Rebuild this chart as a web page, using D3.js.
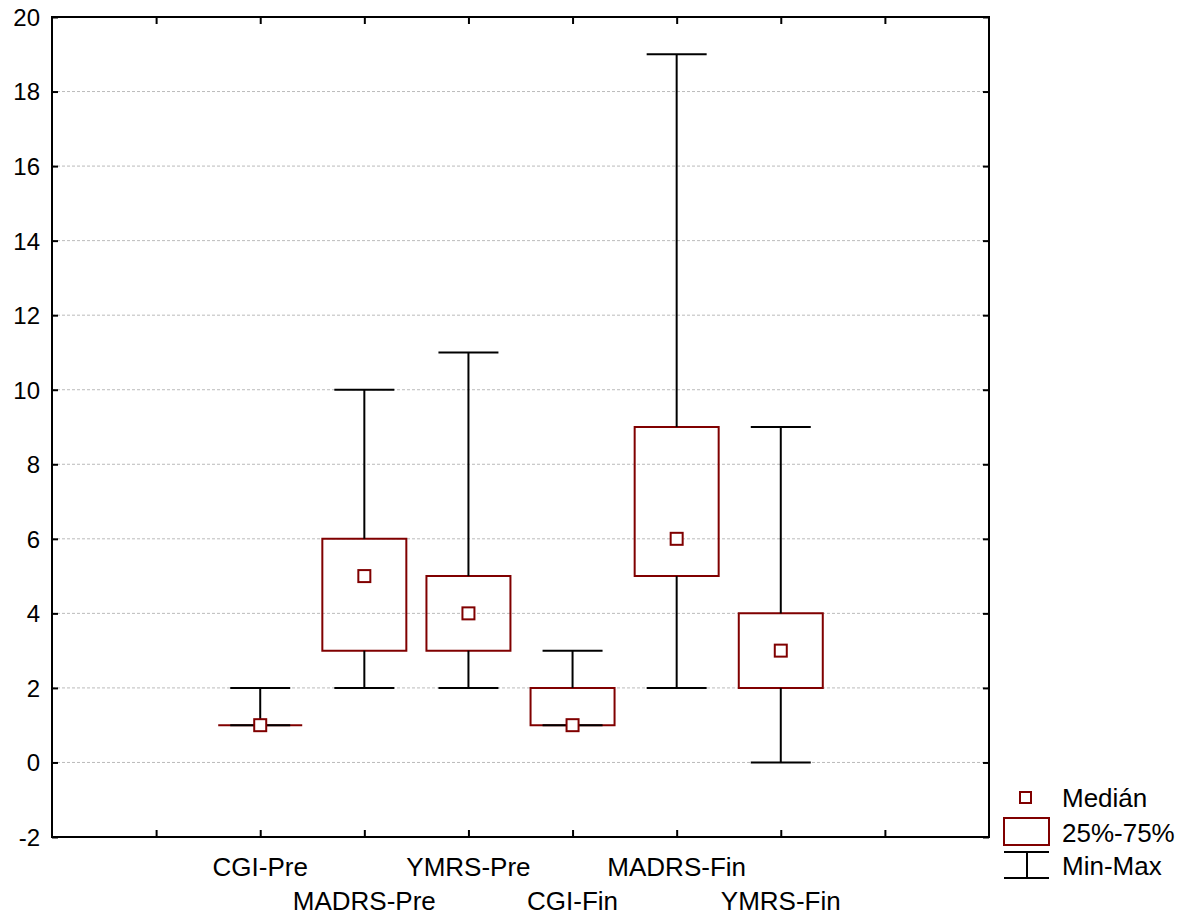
<!DOCTYPE html>
<html><head><meta charset="utf-8">
<script src="https://cdn.jsdelivr.net/npm/d3@7"></script>
<style>body{margin:0;background:#fff}svg{display:block}text{font-family:"Liberation Sans",Arial,sans-serif;fill:#000}</style>
</head><body>
<svg id="c" width="1189" height="917"></svg>
<script>
const categories = ["CGI-Pre","MADRS-Pre","YMRS-Pre","CGI-Fin","MADRS-Fin","YMRS-Fin"];
const minVals    = [1, 2, 2, 1, 2, 0];
const q1Vals     = [1, 3, 3, 1, 5, 2];
const medianVals = [1, 5, 4, 1, 6, 3];
const q3Vals     = [1, 6, 5, 2, 9, 4];
const maxVals    = [2, 10, 11, 3, 19, 9];
const yTicks = [-2,0,2,4,6,8,10,12,14,16,18,20];
const legendLabels = ["Medián","25%-75%","Min-Max"];

const red = "#800000";
const svg = d3.select("#c");
const L = 52, R = 989, T = 17, B = 837;
const x = d3.scaleLinear().domain([0, 9]).range([L, R]);
const y = d3.scaleLinear().domain([-2, 20]).range([B, T]);
const xPos = i => x(i + 2);

// grid
svg.append("g").selectAll("line").data(yTicks.filter(v => v > -2 && v < 20)).join("line")
  .attr("x1", L).attr("x2", R).attr("y1", d => y(d)).attr("y2", d => y(d))
  .attr("stroke", "#bbb").attr("stroke-width", 1).attr("stroke-dasharray", "3,2");

// axes with inward ticks
const yAxisL = d3.axisLeft(y).tickValues(yTicks).tickSize(-6).tickPadding(12).tickFormat(d => String(d));
const gy = svg.append("g").attr("transform", `translate(${L},0)`).call(yAxisL);
gy.select(".domain").remove();
gy.selectAll("line").attr("stroke", "#000").attr("stroke-width", 2);
gy.selectAll("text").attr("font-size", 24).attr("dy", "0.35em");

const yAxisR = d3.axisRight(y).tickValues(yTicks).tickSize(-6).tickFormat("");
const gyr = svg.append("g").attr("transform", `translate(${R},0)`).call(yAxisR);
gyr.select(".domain").remove();
gyr.selectAll("line").attr("stroke", "#000").attr("stroke-width", 2);

const xTickVals = d3.range(1, 9);
const gxb = svg.append("g").attr("transform", `translate(0,${B})`)
  .call(d3.axisBottom(x).tickValues(xTickVals).tickSize(-7).tickFormat(""));
gxb.select(".domain").remove();
gxb.selectAll("line").attr("stroke", "#000").attr("stroke-width", 2);
const gxt = svg.append("g").attr("transform", `translate(0,${T})`)
  .call(d3.axisTop(x).tickValues(xTickVals).tickSize(-7).tickFormat(""));
gxt.select(".domain").remove();
gxt.selectAll("line").attr("stroke", "#000").attr("stroke-width", 2);

// frame
svg.append("rect").attr("x", L).attr("y", T).attr("width", R - L).attr("height", B - T)
  .attr("fill", "none").attr("stroke", "#000").attr("stroke-width", 2);

// category labels (staggered)
svg.append("g").selectAll("text").data(categories).join("text")
  .attr("x", (d, i) => xPos(i)).attr("y", (d, i) => i % 2 === 0 ? 876 : 910)
  .attr("text-anchor", "middle").attr("font-size", 26).text(d => d);

const boxW = 84, capW = 60, med = 12;
const g = svg.append("g");
categories.forEach((c, i) => {
  const cx = xPos(i);
  const x0 = cx - boxW / 2, x1 = cx + boxW / 2, yt = y(q3Vals[i]), yb = y(q1Vals[i]);
  // box (path so zero-height boxes still show)
  g.append("path").attr("d", `M${x0},${yt}H${x1}V${yb}H${x0}Z`)
    .attr("fill", "none").attr("stroke", red).attr("stroke-width", 2);
  // whiskers
  const wl = (a, b, c2, d) => g.append("line").attr("x1", a).attr("y1", b).attr("x2", c2).attr("y2", d)
    .attr("stroke", "#000").attr("stroke-width", 2);
  if (maxVals[i] > q3Vals[i]) wl(cx, y(maxVals[i]), cx, yt);
  if (minVals[i] < q1Vals[i]) wl(cx, y(minVals[i]), cx, yb);
  wl(cx - capW / 2, y(maxVals[i]), cx + capW / 2, y(maxVals[i]));
  wl(cx - capW / 2, y(minVals[i]), cx + capW / 2, y(minVals[i]));
  // median
  g.append("rect").attr("x", cx - med / 2).attr("y", y(medianVals[i]) - med / 2)
    .attr("width", med).attr("height", med).attr("fill", "#fff").attr("stroke", red).attr("stroke-width", 2);
});

// legend
const lg = svg.append("g");
lg.append("rect").attr("x", 1020).attr("y", 792).attr("width", 11).attr("height", 11)
  .attr("fill", "#fff").attr("stroke", red).attr("stroke-width", 2);
lg.append("rect").attr("x", 1004).attr("y", 818).attr("width", 45).attr("height", 27)
  .attr("fill", "#fff").attr("stroke", red).attr("stroke-width", 2);
[[1004, 852, 1049, 852], [1004, 878, 1049, 878], [1027, 852, 1027, 878]].forEach(p =>
  lg.append("line").attr("x1", p[0]).attr("y1", p[1]).attr("x2", p[2]).attr("y2", p[3])
    .attr("stroke", "#000").attr("stroke-width", 2));
lg.selectAll("text").data(legendLabels).join("text")
  .attr("x", 1062).attr("y", (d, i) => [807, 842, 875][i]).attr("font-size", 26).text(d => d);
</script>
</body></html>
